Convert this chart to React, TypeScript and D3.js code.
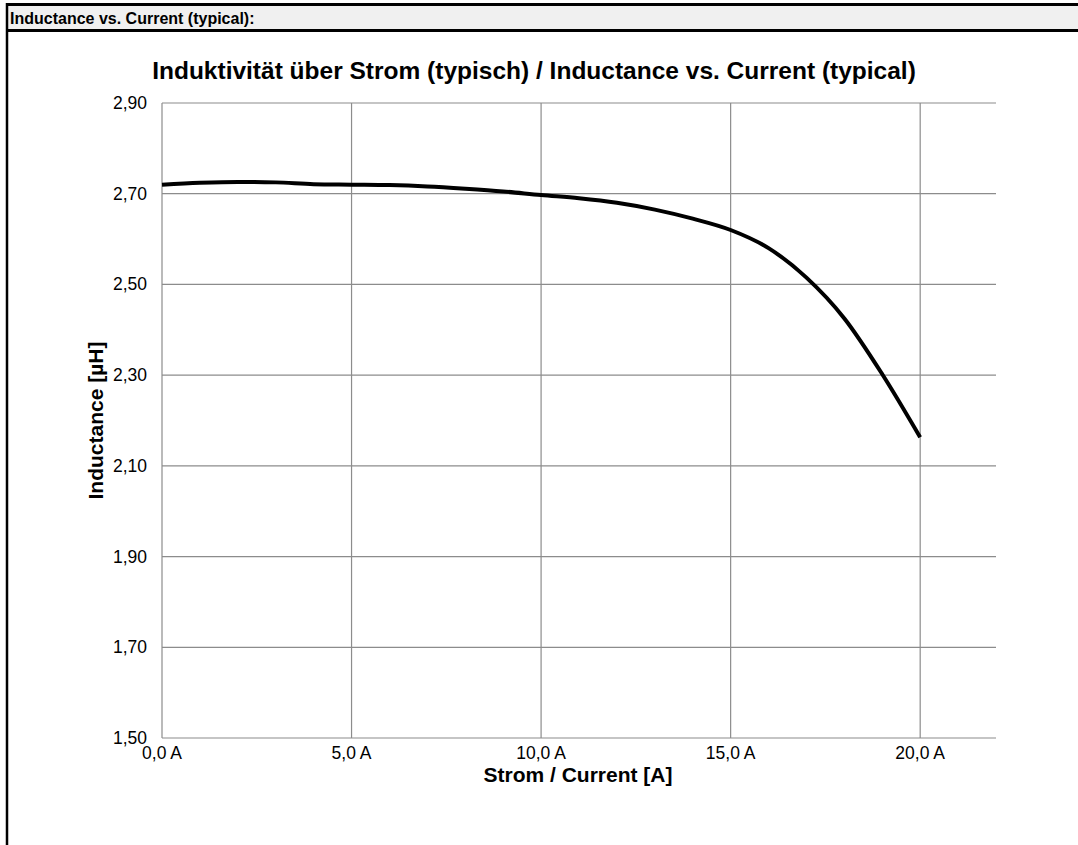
import { useEffect, useRef } from 'react';
import * as d3 from 'd3';

// Current [A] and inductance [µH]
const current = [0, 1, 2, 3, 4, 5, 6, 7, 8, 9, 10, 11, 12, 13, 14, 15, 16, 17, 18, 19, 20];
const inductance = [
  2.72, 2.724, 2.726, 2.725, 2.721, 2.72, 2.719, 2.716, 2.711, 2.705, 2.697,
  2.69, 2.68, 2.665, 2.645, 2.62, 2.58, 2.515, 2.425, 2.302, 2.163,
];
const xTicks = [0, 5, 10, 15, 20];
const yTicks = [1.5, 1.7, 1.9, 2.1, 2.3, 2.5, 2.7, 2.9];

const W = 1078;
const H = 845;
const FONT = '"Liberation Sans", Arial, sans-serif';

const App = () => {
  const svgRef = useRef<SVGSVGElement>(null);

  useEffect(() => {
    const svg = d3.select(svgRef.current);
    svg.selectAll('*').remove();

    // Header bar + frame
    svg.append('rect').attr('x', 7).attr('y', 4.5).attr('width', W).attr('height', 26)
      .attr('fill', '#f0f0f0');
    svg.append('line').attr('x1', 6).attr('x2', W).attr('y1', 4.5).attr('y2', 4.5)
      .attr('stroke', '#000').attr('stroke-width', 3);
    svg.append('line').attr('x1', 6).attr('x2', W).attr('y1', 30.5).attr('y2', 30.5)
      .attr('stroke', '#000').attr('stroke-width', 3);
    svg.append('line').attr('x1', 7).attr('x2', 7).attr('y1', 3).attr('y2', H)
      .attr('stroke', '#000').attr('stroke-width', 2.5);
    svg.append('text').attr('x', 10).attr('y', 24)
      .style('font-family', FONT).style('font-size', '16px').style('font-weight', 'bold')
      .text('Inductance vs. Current (typical):');

    const left = 162, right = 996, top = 103, bottom = 738;

    const x = d3.scaleLinear().domain([0, 22]).range([left, right]);
    const y = d3.scaleLinear().domain([1.5, 2.9]).range([bottom, top]);

    // Grid
    const grid = svg.append('g').attr('stroke', '#8c8c8c').attr('stroke-width', 1.2);
    yTicks.forEach(t => {
      grid.append('line').attr('x1', left).attr('x2', right)
        .attr('y1', y(t)).attr('y2', y(t));
    });
    xTicks.forEach(t => {
      grid.append('line').attr('x1', x(t)).attr('x2', x(t))
        .attr('y1', top).attr('y2', bottom);
    });

    const fmtY = (v: number) => v.toFixed(2).replace('.', ',');
    const fmtX = (v: number) => v.toFixed(1).replace('.', ',') + ' A';

    // Y tick labels
    svg.append('g').selectAll('text').data(yTicks).enter().append('text')
      .attr('x', left - 15).attr('y', d => y(d) + 6)
      .attr('text-anchor', 'end')
      .style('font-family', FONT).style('font-size', '17.5px')
      .text(d => fmtY(d));

    // X tick labels
    svg.append('g').selectAll('text').data(xTicks).enter().append('text')
      .attr('x', d => x(d)).attr('y', bottom + 21)
      .attr('text-anchor', 'middle')
      .style('font-family', FONT).style('font-size', '17.5px')
      .text(d => fmtX(d));

    // Titles
    svg.append('text').attr('x', 534).attr('y', 79).attr('text-anchor', 'middle')
      .style('font-family', FONT).style('font-size', '24.5px').style('font-weight', 'bold')
      .text('Induktivität über Strom (typisch) / Inductance vs. Current (typical)');

    svg.append('text').attr('x', (left + right) / 2 - 1).attr('y', 782).attr('text-anchor', 'middle')
      .style('font-family', FONT).style('font-size', '21px').style('font-weight', 'bold')
      .text('Strom / Current [A]');

    svg.append('text')
      .attr('transform', `translate(103, ${(top + bottom) / 2}) rotate(-90)`)
      .attr('text-anchor', 'middle')
      .style('font-family', FONT).style('font-size', '21px').style('font-weight', 'bold')
      .text('Inductance [µH]');

    // Curve
    const data = current.map((c, i) => ({ c, l: inductance[i] }));
    const line = d3.line<{ c: number; l: number }>()
      .x(d => x(d.c))
      .y(d => y(d.l))
      .curve(d3.curveMonotoneX);

    svg.append('path').datum(data)
      .attr('fill', 'none').attr('stroke', '#000').attr('stroke-width', 4)
      .attr('d', line);
  }, []);

  return (
    <svg ref={svgRef} width={W} height={H}
      style={{ position: 'absolute', left: 0, top: 0, background: '#fff' }} />
  );
};

export default App;
